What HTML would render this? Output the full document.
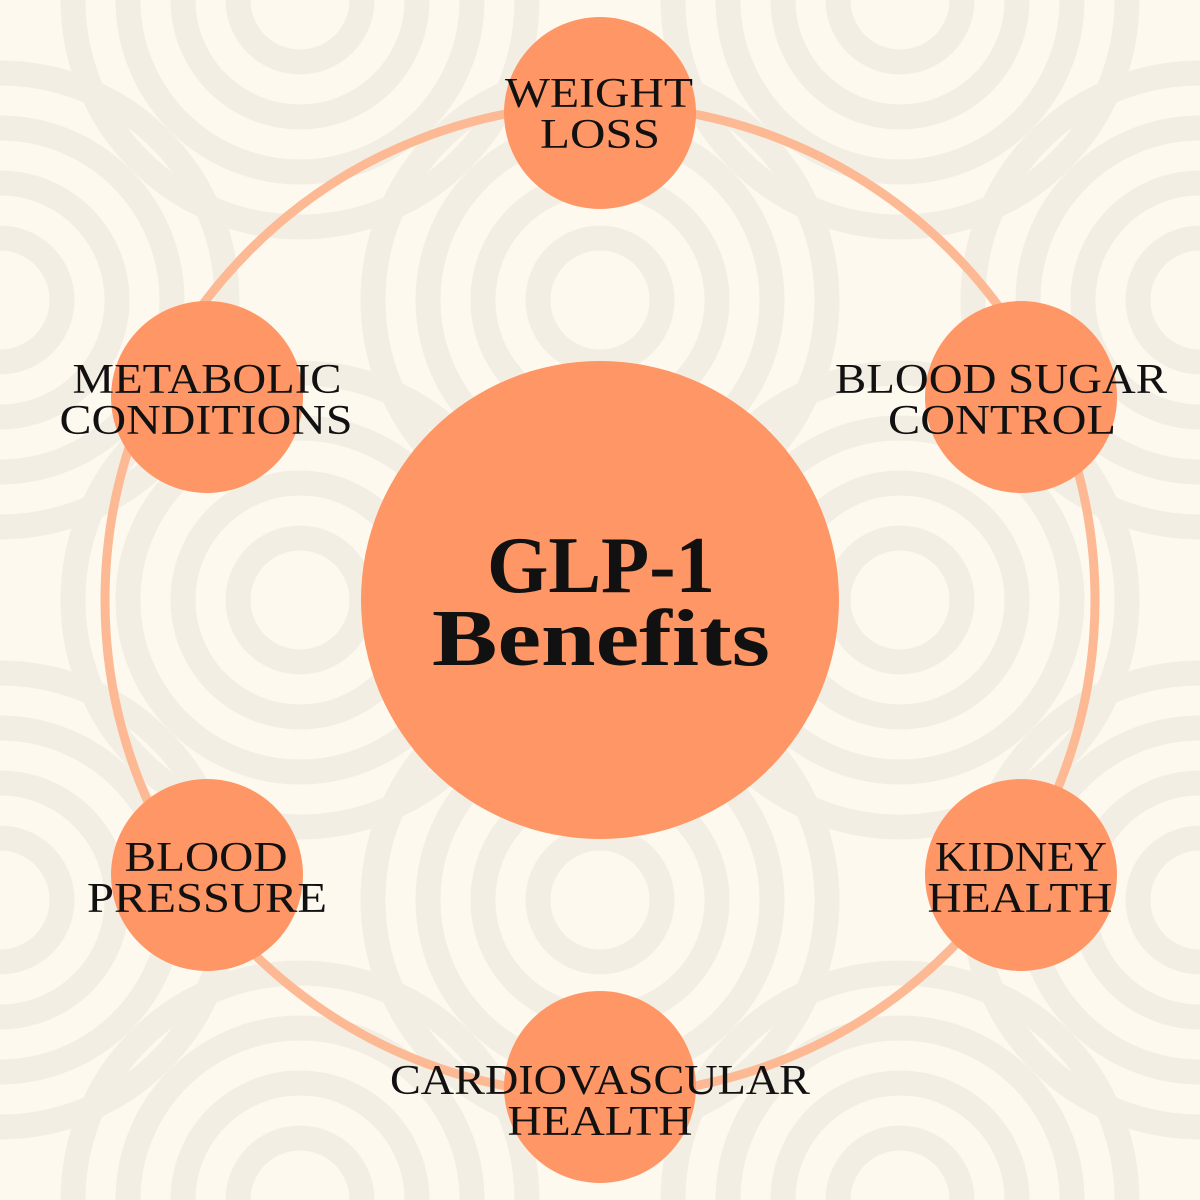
<!DOCTYPE html>
<html style="margin:0;overflow:hidden"><head><style>
html,body{margin:0;width:1200px;height:1200px;overflow:hidden;background:#fdf9ee}
svg{display:block}
</style></head><body>
<svg width="1200" height="1200" viewBox="0 0 1200 1200" xmlns="http://www.w3.org/2000/svg">
<rect width="1200" height="1200" fill="#fdf9ee"/>
<defs>
<g id="rings" fill="none" stroke="#f3eee3" stroke-width="25">
<circle r="62"/><circle r="117"/><circle r="172"/><circle r="227"/>
</g>
</defs>
<use href="#rings" x="300" y="0"/><use href="#rings" x="900" y="0"/>
<use href="#rings" x="0" y="300"/><use href="#rings" x="600" y="300"/><use href="#rings" x="1200" y="300"/>
<use href="#rings" x="300" y="600"/><use href="#rings" x="900" y="600"/>
<use href="#rings" x="0" y="900"/><use href="#rings" x="600" y="900"/><use href="#rings" x="1200" y="900"/>
<use href="#rings" x="300" y="1200"/><use href="#rings" x="900" y="1200"/>
<circle cx="600" cy="600" r="495" fill="none" stroke="#fdb994" stroke-width="9"/>
<g fill="#ff9666">
<circle cx="600" cy="600" r="239"/>
<circle cx="600" cy="113" r="96"/>
<circle cx="207" cy="397" r="96"/>
<circle cx="1021" cy="397" r="96"/>
<circle cx="207" cy="875" r="96"/>
<circle cx="1021" cy="875" r="96"/>
<circle cx="600" cy="1087" r="96"/>
</g>
<g font-family="Liberation Serif, serif" font-size="42" fill="#111" text-anchor="middle" lengthAdjust="spacingAndGlyphs">
<text x="599" y="107" textLength="188" lengthAdjust="spacingAndGlyphs">WEIGHT</text><text x="600" y="148" textLength="120" lengthAdjust="spacingAndGlyphs">LOSS</text>
<text x="207" y="393" textLength="269" lengthAdjust="spacingAndGlyphs">METABOLIC</text><text x="206" y="434" textLength="293" lengthAdjust="spacingAndGlyphs">CONDITIONS</text>
<text x="1001" y="393" textLength="332" lengthAdjust="spacingAndGlyphs">BLOOD SUGAR</text><text x="1002" y="434" textLength="228" lengthAdjust="spacingAndGlyphs">CONTROL</text>
<text x="206" y="871" textLength="163" lengthAdjust="spacingAndGlyphs">BLOOD</text><text x="207" y="912" textLength="240" lengthAdjust="spacingAndGlyphs">PRESSURE</text>
<text x="1021" y="871" textLength="172" lengthAdjust="spacingAndGlyphs">KIDNEY</text><text x="1020" y="912" textLength="185" lengthAdjust="spacingAndGlyphs">HEALTH</text>
<text x="600" y="1094" textLength="420" lengthAdjust="spacingAndGlyphs">CARDIOVASCULAR</text><text x="600" y="1135" textLength="185" lengthAdjust="spacingAndGlyphs">HEALTH</text>
</g>
<g font-family="Liberation Serif, serif" font-size="80" font-weight="bold" fill="#111" text-anchor="middle">
<text x="601" y="592" textLength="228" lengthAdjust="spacingAndGlyphs">GLP-1</text>
<text x="601" y="665" textLength="338" lengthAdjust="spacingAndGlyphs">Benefits</text>
</g>
</svg>
</body></html>
